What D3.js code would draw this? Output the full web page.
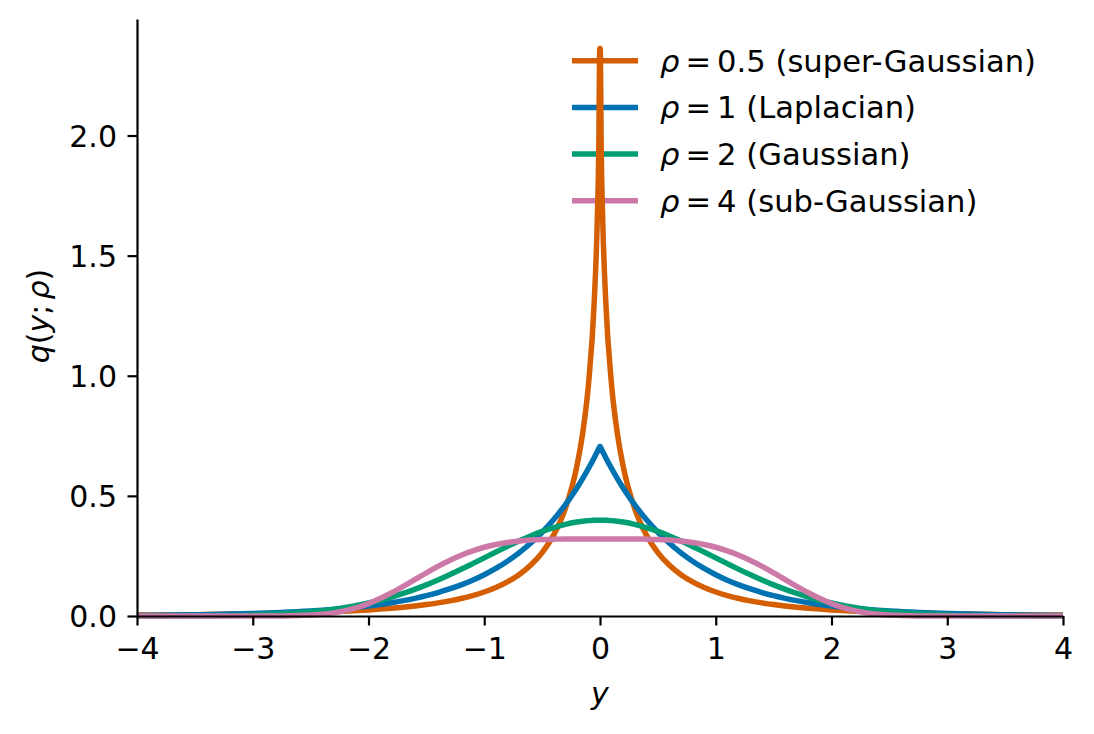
<!DOCTYPE html>
<html>
<head>
<meta charset="utf-8">
<script src="https://cdn.jsdelivr.net/npm/d3@7"></script>
<style>
  html, body { margin: 0; padding: 0; background: #fff; }
  svg { display: block; }
  text { font-family: "DejaVu Sans", sans-serif; fill: #000; }
</style>
</head>
<body>
<div id="chart"></div>
<script>
// sample grid (y) and density values q(y; rho)
const yGrid = [
  -4.0, -3.5, -3.0, -2.75, -2.5, -2.4, -2.3, -2.2, -2.1, -2.0, -1.9, -1.8, -1.7, -1.6, -1.5, -1.4, -1.3,
  -1.2, -1.1, -1.0, -0.9, -0.8, -0.7, -0.6, -0.5, -0.4, -0.3, -0.2, -0.15, -0.1, -0.05, -0.025, -0.01, -0.002,
  0.002, 0.01, 0.025, 0.05, 0.1, 0.15, 0.2, 0.3, 0.4, 0.5, 0.6, 0.7, 0.8, 0.9, 1.0, 1.1, 1.2,
  1.3, 1.4, 1.5, 1.6, 1.7, 1.8, 1.9, 2.0, 2.1, 2.2, 2.3, 2.4, 2.5, 2.75, 3.0, 3.5, 4.0
];

const qSuper = [
  0.0037, 0.0056, 0.0089, 0.0113, 0.0146, 0.0162, 0.0181, 0.0202, 0.0226, 0.0254, 0.0286, 0.0323, 0.0366, 0.0416, 0.0475, 0.0546, 0.0629,
  0.0729, 0.0851, 0.1000, 0.1186, 0.1419, 0.1717, 0.2109, 0.2638, 0.3377, 0.4469, 0.6233, 0.760, 0.9615, 1.3066, 1.623, 1.967, 2.362,
  2.362, 1.967, 1.623, 1.3066, 0.9615, 0.760, 0.6233, 0.4469, 0.3377, 0.2638, 0.2109, 0.1717, 0.1419, 0.1186, 0.1000, 0.0851, 0.0729,
  0.0629, 0.0546, 0.0475, 0.0416, 0.0366, 0.0323, 0.0286, 0.0254, 0.0226, 0.0202, 0.0181, 0.0162, 0.0146, 0.0113, 0.0089, 0.0056, 0.0037
];

const qLaplace = [
  0.0025, 0.0050, 0.0102, 0.0145, 0.0206, 0.0237, 0.0273, 0.0315, 0.0363, 0.0418, 0.0481, 0.0555, 0.0639, 0.0736, 0.0848, 0.0976, 0.1125,
  0.1296, 0.1492, 0.1719, 0.1980, 0.2281, 0.2628, 0.3027, 0.3487, 0.4016, 0.4626, 0.5329, 0.5720, 0.6139, 0.6588, 0.6825, 0.6972, 0.7051,
  0.7051, 0.6972, 0.6825, 0.6588, 0.6139, 0.5720, 0.5329, 0.4626, 0.4016, 0.3487, 0.3027, 0.2628, 0.2281, 0.1980, 0.1719, 0.1492, 0.1296,
  0.1125, 0.0976, 0.0848, 0.0736, 0.0639, 0.0555, 0.0481, 0.0418, 0.0363, 0.0315, 0.0273, 0.0237, 0.0206, 0.0145, 0.0102, 0.0050, 0.0025
];

const qGauss = [
  0.0001, 0.0009, 0.0044, 0.0091, 0.0175, 0.0224, 0.0283, 0.0355, 0.0440, 0.0540, 0.0656, 0.0790, 0.0940, 0.1109, 0.1295, 0.1497, 0.1714,
  0.1942, 0.2179, 0.2420, 0.2661, 0.2897, 0.3123, 0.3332, 0.3521, 0.3683, 0.3814, 0.3910, 0.3945, 0.3970, 0.3984, 0.3988, 0.3989, 0.3989,
  0.3989, 0.3989, 0.3988, 0.3984, 0.3970, 0.3945, 0.3910, 0.3814, 0.3683, 0.3521, 0.3332, 0.3123, 0.2897, 0.2661, 0.2420, 0.2179, 0.1942,
  0.1714, 0.1497, 0.1295, 0.1109, 0.0940, 0.0790, 0.0656, 0.0540, 0.0440, 0.0355, 0.0283, 0.0224, 0.0175, 0.0091, 0.0044, 0.0009, 0.0001
];

const qSub = [
  0.0000, 0.0000, 0.0000, 0.0005, 0.0037, 0.0072, 0.0131, 0.0221, 0.0348, 0.0516, 0.0724, 0.0967, 0.1235, 0.1517, 0.1799, 0.2068, 0.2314,
  0.2531, 0.2713, 0.2861, 0.2976, 0.3060, 0.3120, 0.3160, 0.3184, 0.3198, 0.3204, 0.3206, 0.3207, 0.3207, 0.3207, 0.3207, 0.3207, 0.3207,
  0.3207, 0.3207, 0.3207, 0.3207, 0.3207, 0.3207, 0.3206, 0.3204, 0.3198, 0.3184, 0.3160, 0.3120, 0.3060, 0.2976, 0.2861, 0.2713, 0.2531,
  0.2314, 0.2068, 0.1799, 0.1517, 0.1235, 0.0967, 0.0724, 0.0516, 0.0348, 0.0221, 0.0131, 0.0072, 0.0037, 0.0005, 0.0000, 0.0000, 0.0000
];

const rhoLabels = ["0.5", "1", "2", "4"];
const rhoNames = ["super-Gaussian", "Laplacian", "Gaussian", "sub-Gaussian"];
const colors = ["#d55e00", "#0072b2", "#009e73", "#cc79a7"];
const xTicks = [-4, -3, -2, -1, 0, 1, 2, 3, 4];
const yTicks = [0, 0.5, 1.0, 1.5, 2.0];

const series = [qSuper, qLaplace, qGauss, qSub];

const width = 1094, height = 734;
const margin = { left: 137, right: 31, top: 19, bottom: 118 };
const fontSize = 30;
const lineW = 5.5;

const svg = d3.select("#chart")
  .append("svg")
  .attr("width", width)
  .attr("height", height);

const x = d3.scaleLinear().domain([-4, 4]).range([margin.left, width - margin.right]);
const y = d3.scaleLinear().domain([0, 2.485]).range([height - margin.bottom, margin.top]);

// legend (sits under the curves, like the original)
const legend = svg.append("g").attr("class", "legend");
const legX0 = 572, legX1 = 638, legTop = 60.7, legStep = 46.7;
rhoLabels.forEach((r, i) => {
  const cy = legTop + i * legStep;
  legend.append("line")
    .attr("x1", legX0).attr("x2", legX1)
    .attr("y1", cy).attr("y2", cy)
    .attr("stroke", colors[i])
    .attr("stroke-width", lineW);
  const t = legend.append("text")
    .attr("x", 660)
    .attr("y", cy)
    .attr("dy", "0.36em")
    .style("font-size", "30.6px");
  t.append("tspan").style("font-style", "italic").text("ρ");
  t.append("tspan").attr("dx", 6).text("=");
  t.append("tspan").attr("dx", 6).text(r + " (" + rhoNames[i] + ")");
});

// curves
const line = d3.line()
  .x((d, i) => x(yGrid[i]))
  .y(d => y(d))
  .curve(d3.curveMonotoneX);

svg.append("g")
  .selectAll("path.curve")
  .data(series)
  .enter()
  .append("path")
  .attr("class", "curve")
  .attr("d", d => line(d))
  .attr("fill", "none")
  .attr("stroke", (d, i) => colors[i])
  .attr("stroke-width", lineW)
  .attr("stroke-linejoin", "round");

// axes
const fmtX = d => (d < 0 ? "\u2212" + Math.abs(d) : String(d));

const xAxis = svg.append("g")
  .attr("transform", `translate(0,${height - margin.bottom})`)
  .call(d3.axisBottom(x).tickValues(xTicks).tickFormat(fmtX).tickSize(9.5).tickSizeOuter(0));

const yAxis = svg.append("g")
  .attr("transform", `translate(${margin.left},0)`)
  .call(d3.axisLeft(y).tickValues(yTicks).tickFormat(d3.format(".1f")).tickSize(9.5).tickSizeOuter(0));

[xAxis, yAxis].forEach(g => {
  g.select(".domain").attr("stroke", "#000").attr("stroke-width", 2.2);
  g.selectAll(".tick line").attr("stroke", "#000").attr("stroke-width", 2.2);
  g.selectAll(".tick text")
    .style("font-size", fontSize + "px")
    .style("font-family", "'DejaVu Sans', sans-serif")
    .attr("fill", "#000");
});
xAxis.selectAll(".tick text").attr("y", 43).attr("dy", 0);
yAxis.selectAll(".tick text").attr("x", -20).attr("dy", "0.36em");

// axis labels
svg.append("text")
  .attr("x", x(0))
  .attr("y", 704)
  .attr("text-anchor", "middle")
  .style("font-size", fontSize + "px")
  .style("font-style", "italic")
  .text("y");

const yl = svg.append("text")
  .attr("transform", "translate(49,316) rotate(-90)")
  .attr("text-anchor", "middle")
  .style("font-size", fontSize + "px");
yl.append("tspan").style("font-style", "italic").text("q");
yl.append("tspan").text("(");
yl.append("tspan").style("font-style", "italic").text("y");
yl.append("tspan").text(";");
yl.append("tspan").attr("dx", 5).style("font-style", "italic").text("ρ");
yl.append("tspan").text(")");
</script>
</body>
</html>
